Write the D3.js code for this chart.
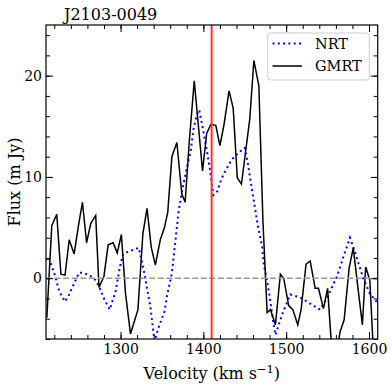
<!DOCTYPE html>
<html><head><meta charset="utf-8">
<script src="https://cdn.jsdelivr.net/npm/d3@7"></script>
<style>
body{margin:0;background:#fff}
svg{display:block}
svg text{font-family:"DejaVu Serif","Noto Serif","Liberation Serif","Times New Roman",Times,FreeSerif,Georgia,serif !important;fill:#000}
</style>
</head><body>
<svg id="c" width="392" height="392"></svg>
<script>
// ---- data ----
const title = "J2103-0049";
const nrtVel = [1210,1213,1220,1226,1233,1238,1244,1250,1255,1264,1270,1275,1281,1287,1294,1299,1303,1312,1322,1328,1336,1341,1347,1353,1356,1362,1366,1370,1374,1379,1385,1388,1392,1395,1400,1404,1408,1412,1417,1420,1424,1434,1444,1450,1454,1458,1462,1466,1471,1473,1476,1480,1484,1487,1495,1505,1517,1529,1541,1549,1561,1569,1577,1583,1593,1601,1610];
const nrtFlux = [1.8,2.1,0.5,-1.3,-2.3,-1.6,-0.5,0.55,0.55,0.2,-0.2,-1.0,-2.2,-3.1,-1.3,1.0,2.4,2.7,3.0,0.8,-2.8,-6.2,-4.6,-3.3,-1.8,0.5,3.5,6.5,8.5,10.5,12.7,14.7,16.1,16.6,14.5,12.7,10.7,8.2,8.6,9.4,10.2,11.7,12.5,12.85,11.2,9.1,7.1,5.1,3.1,1.3,0.15,-1.8,-4.1,-5.6,-3.6,-1.6,-1.9,-2.5,-3.1,-2.0,0.1,2.1,4.0,2.6,0.0,-1.5,-2.4];
const gmrtVel = [1211,1217,1223,1228,1233,1238,1244,1249,1254,1259,1264,1270,1274,1280,1285,1291,1296,1301,1306,1312,1321,1327,1332,1337,1342,1348,1353,1357,1362,1368,1374,1378,1383,1389,1399,1404,1409,1415,1420,1425,1431,1436,1441,1446,1451,1456,1461,1467,1472,1477,1481,1487,1493,1497,1503,1508,1514,1518,1524,1529,1535,1539,1545,1550,1555,1561,1565,1570,1576,1581,1586,1592,1596,1601,1607];
const gmrtFlux = [-3.9,5.2,6.3,0.4,0.3,3.8,2.4,5.1,7.5,3.5,5.4,6.2,-0.9,0.2,3.3,3.5,2.5,4.3,-1.5,-5.5,-3.1,4.4,6.9,3.1,1.3,3.8,5.0,6.5,12.0,13.4,8.3,7.5,13.5,19.5,10.6,14.3,15.2,15.1,13.1,15.2,18.5,16.8,9.9,9.3,12.5,15.7,21.5,19.0,5.5,-3.4,-3.1,-4.6,0.4,0.0,-2.7,-3.1,-4.6,-3.1,1.4,1.7,-1.0,-1.0,-3.0,-1.0,-7.0,-7.5,-5.3,-4.1,1.0,3.0,-0.5,-4.6,1.1,-0.2,-10.0];
const xTicks = [1300,1400,1500,1600];
const yTicks = [0,10,20];
const xMinor = d3.range(1220,1610,20);
const yMinor = d3.range(-6,26,2);
const systemicVel = 1410;
const xDomain = [1210,1610.5];
const yDomain = [-6,25];

// ---- layout ----
const FONT = '"DejaVu Serif","Noto Serif","Liberation Serif","Times New Roman",Times,serif';
const L=46, R=377.7, T=25, B=339;
const svg = d3.select("#c");
const x = d3.scaleLinear().domain(xDomain).range([L,R]);
const y = d3.scaleLinear().domain(yDomain).range([B,T]);

svg.append("clipPath").attr("id","clip").append("rect")
  .attr("x",L).attr("y",T).attr("width",R-L).attr("height",B-T);
const plot = svg.append("g").attr("clip-path","url(#clip)");

const line = d3.line().x(d=>x(d[0])).y(d=>y(d[1]));
plot.append("path").datum(nrtVel.map((v,i)=>[v,nrtFlux[i]]))
  .attr("d",line).attr("fill","none").attr("stroke","#0000ff")
  .attr("stroke-width",2).attr("stroke-dasharray","2,3.3");
plot.append("path").datum(gmrtVel.map((v,i)=>[v,gmrtFlux[i]]))
  .attr("d",line).attr("fill","none").attr("stroke","#000")
  .attr("stroke-width",1.5).attr("stroke-linejoin","miter");
plot.append("line").attr("x1",L).attr("x2",R).attr("y1",y(0)).attr("y2",y(0))
  .attr("stroke","#999").attr("stroke-width",1.6).attr("stroke-dasharray","6,2.6");
plot.append("line").attr("x1",x(systemicVel)).attr("x2",x(systemicVel)).attr("y1",T).attr("y2",B)
  .attr("stroke","#f33").attr("stroke-width",2);

// ---- axes ----
function styleAx(g){ g.attr("font-family",FONT); g.select(".domain").remove(); g.selectAll("line").attr("stroke","#000").attr("stroke-width",1);
  g.selectAll("text").attr("font-family",FONT).attr("font-size",14).attr("fill","#000"); }
svg.append("g").attr("transform",`translate(0,${B})`)
  .call(d3.axisBottom(x).tickValues(xTicks).tickSize(-7).tickPadding(5).tickFormat(d3.format("d"))).call(styleAx);
svg.append("g").attr("transform",`translate(0,${B})`)
  .call(d3.axisBottom(x).tickValues(xMinor).tickSize(-4).tickFormat("")).call(styleAx);
svg.append("g").attr("transform",`translate(0,${T})`)
  .call(d3.axisTop(x).tickValues(xTicks).tickSize(-7).tickFormat("")).call(styleAx);
svg.append("g").attr("transform",`translate(0,${T})`)
  .call(d3.axisTop(x).tickValues(xMinor).tickSize(-4).tickFormat("")).call(styleAx);
svg.append("g").attr("transform",`translate(${L},0)`)
  .call(d3.axisLeft(y).tickValues(yTicks).tickSize(-7).tickPadding(4).tickFormat(d3.format("d"))).call(styleAx);
svg.append("g").attr("transform",`translate(${L},0)`)
  .call(d3.axisLeft(y).tickValues(yMinor).tickSize(-4).tickFormat("")).call(styleAx);
svg.append("g").attr("transform",`translate(${R},0)`)
  .call(d3.axisRight(y).tickValues(yTicks).tickSize(-7).tickFormat("")).call(styleAx);
svg.append("g").attr("transform",`translate(${R},0)`)
  .call(d3.axisRight(y).tickValues(yMinor).tickSize(-4).tickFormat("")).call(styleAx);

svg.append("rect").attr("x",L).attr("y",T).attr("width",R-L).attr("height",B-T)
  .attr("fill","none").attr("stroke","#000").attr("stroke-width",1.2);

// ---- labels ----
svg.append("text").attr("x",64).attr("y",20).attr("font-family",FONT).attr("font-size",16).text(title);
const xl = svg.append("text").attr("x",(L+R)/2).attr("y",379).attr("text-anchor","middle").attr("font-family",FONT).attr("font-size",16);
xl.append("tspan").text("Velocity (km s");
xl.append("tspan").attr("dy",-6).attr("font-size",11.5).text("\u22121");
xl.append("tspan").attr("dy",6).text(")");
svg.append("text").attr("transform",`translate(20,${(T+B)/2}) rotate(-90)`)
  .attr("text-anchor","middle").attr("font-family",FONT).attr("font-size",16).text("Flux (m Jy)");

// ---- legend ----
const lg = svg.append("g");
lg.append("rect").attr("x",267.7).attr("y",33).attr("width",101.6).attr("height",47).attr("rx",3)
  .attr("fill","#fff").attr("fill-opacity",0.8).attr("stroke","#ccc").attr("stroke-width",1);
const items = [["NRT","#0000ff","2,3.3",2],["GMRT","#000",null,1.5]];
items.forEach((it,i)=>{
  const yy = 43.5 + i*22.5;
  const l = lg.append("line").attr("x1",272.5).attr("x2",302).attr("y1",yy).attr("y2",yy)
    .attr("stroke",it[1]).attr("stroke-width",it[3]);
  if(it[2]) l.attr("stroke-dasharray",it[2]);
  lg.append("text").attr("x",315).attr("y",yy+5).attr("font-family",FONT).attr("font-size",14.5).text(it[0]);
});
</script>
</body></html>
